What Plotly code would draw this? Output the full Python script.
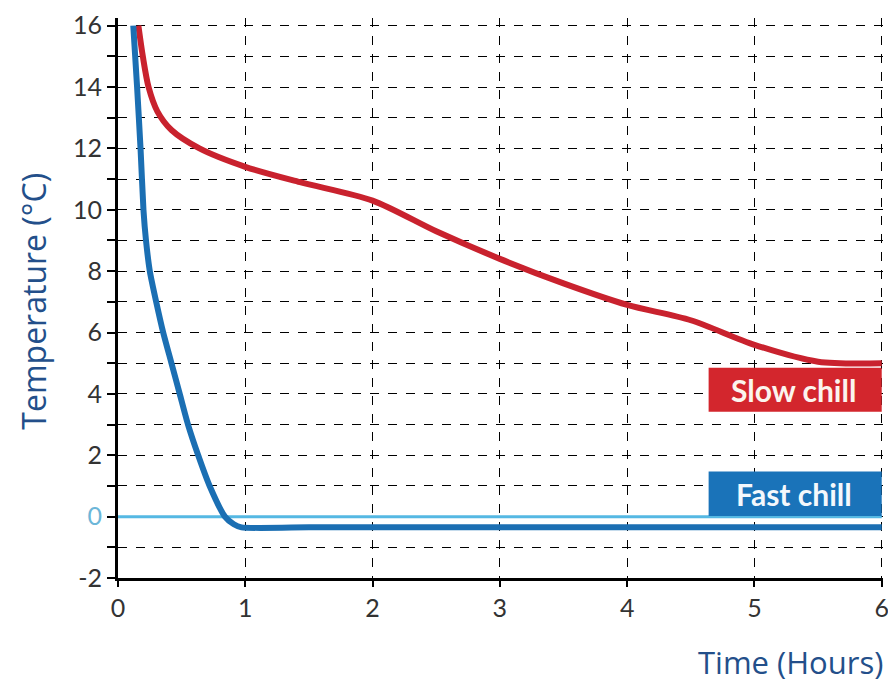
import plotly.graph_objects as go

# readings (hours, degC)
slow_time = [0.16, 0.195, 0.24, 0.31, 0.42, 0.64, 1.0, 1.43, 2.0, 2.5, 3.0, 3.5, 4.0, 4.5, 5.0, 5.5, 6.0]
slow_temp = [16.0, 15.0, 14.0, 13.2, 12.6, 12.0, 11.4, 10.9, 10.3, 9.3, 8.4, 7.6, 6.9, 6.4, 5.6, 5.05, 5.0]

fast_time = [0.12, 0.15, 0.177, 0.20, 0.22, 0.25, 0.30, 0.355, 0.42, 0.485, 0.55,
             0.63, 0.72, 0.84, 0.91, 0.97, 1.5, 2.0, 3.0, 4.0, 5.0, 6.0]
fast_temp = [16.0, 14.0, 12.0, 10.0, 9.0, 8.0, 7.0, 6.0, 5.0, 4.0, 3.0,
             2.0, 1.0, 0.0, -0.25, -0.35, -0.35, -0.35, -0.35, -0.35, -0.35, -0.35]

zero_time = [0, 6]
zero_temp = [0, 0]

x_ticks = [0, 1, 2, 3, 4, 5, 6]
y_ticks = list(range(-2, 17))
y_labels = []
for v in y_ticks:
    if v == 0:
        y_labels.append("<span style='color:#6cb6d8'>0</span>")
    elif v % 2 == 0:
        y_labels.append(str(v))
    else:
        y_labels.append("")

red = "#c9222e"
blue = "#1b6fb3"
title_blue = "#234f8a"

fig = go.Figure()

fig.add_trace(go.Scatter(x=zero_time, y=zero_temp, mode="lines",
                         line=dict(color="#55b8e3", width=3), hoverinfo="skip"))
fig.add_trace(go.Scatter(x=slow_time, y=slow_temp, mode="lines", name="Slow chill",
                         line=dict(color=red, width=6, shape="spline", smoothing=0.8)))
fig.add_trace(go.Scatter(x=fast_time, y=fast_temp, mode="lines", name="Fast chill",
                         line=dict(color=blue, width=6, shape="spline", smoothing=0.6)))

# label boxes
fig.add_shape(type="rect", x0=4.64, x1=6.0, y0=3.42, y1=4.85, fillcolor="#d3262d",
              line=dict(width=0), layer="above")
fig.add_shape(type="rect", x0=4.64, x1=6.0, y0=0.02, y1=1.47, fillcolor="#1a73b9",
              line=dict(width=0), layer="above")
fig.add_annotation(x=5.31, y=4.13, text="<b>Slow chill</b>", showarrow=False,
                   font=dict(color="#fbf4ee", size=30, family="Lato"))
fig.add_annotation(x=5.31, y=0.75, text="<b>Fast chill</b>", showarrow=False,
                   font=dict(color="#f4f8fc", size=30, family="Lato"))

# axis titles
fig.add_annotation(xref="paper", yref="paper", x=-0.11, y=0.495, text="Temperature (°C)",
                   textangle=-90, showarrow=False, xanchor="center", yanchor="middle",
                   font=dict(color=title_blue, size=32, family="Open Sans"))
fig.add_annotation(xref="paper", yref="paper", x=1.003, y=-0.15, text="Time (Hours)",
                   showarrow=False, xanchor="right", yanchor="middle",
                   font=dict(color=title_blue, size=31, family="Open Sans"))

# page body adds an 8px margin, so the figure is drawn 8px smaller than the window
fig.update_layout(
    width=888, height=678,
    margin=dict(l=110, r=13, t=10, b=108),
    plot_bgcolor="white", paper_bgcolor="white",
    showlegend=False,
    font=dict(family="Lato", size=25, color="#333333"),
)
fig.update_xaxes(range=[0, 6.01], tickvals=x_ticks, ticks="outside", ticklen=6,
                 tickcolor="black", tickwidth=2, automargin=False,
                 showline=True, linecolor="black", linewidth=3,
                 showgrid=True, gridcolor="black", gridwidth=1.3, griddash="dash",
                 zeroline=False)
fig.update_yaxes(range=[-2, 16.25], tickvals=y_ticks, ticktext=y_labels, ticks="outside",
                 ticklen=8, tickcolor="black", tickwidth=2, automargin=False,
                 showline=True, linecolor="black", linewidth=3,
                 showgrid=True, gridcolor="black", gridwidth=1.3, griddash="dash",
                 zeroline=False)

fig.write_html("out.html")
